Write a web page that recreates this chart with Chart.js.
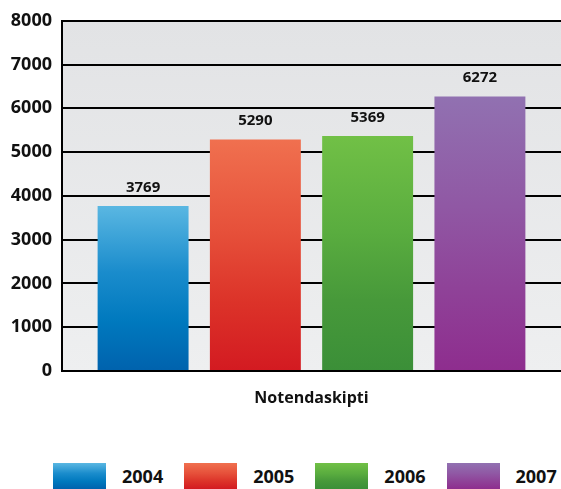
<!DOCTYPE html>
<html lang="is">
<head>
  <meta charset="UTF-8">
  <title>Notendaskipti</title>
  <script src="https://cdn.jsdelivr.net/npm/chart.js"></script>
  <style>
    body {
      margin: 0;
      background: #fff;
      font-family: "Open Sans", sans-serif;
    }
    .wrap {
      width: 561px;
      height: 489px;
    }
    #legend {
      display: flex;
      padding-left: 53px;
      margin-top: 8px;
      height: 26px;
    }
    #legend .item {
      display: flex;
      align-items: center;
      margin-right: 21px;
    }
    #legend .box {
      width: 53px;
      height: 26px;
      margin-right: 16px;
    }
    #legend .label {
      font-weight: 700;
      font-size: 18px;
      color: #111;
      line-height: 26px;
    }
  </style>
</head>
<body>
  <div class="wrap">
    <canvas id="chart" width="561" height="455"></canvas>
    <div id="legend"></div>
  </div>

  <script>
    // data
    const categories = ['Notendaskipti'];
    const years = ['2004', '2005', '2006', '2007'];
    const values = [3769, 5290, 5369, 6272];
    const yMax = 8000;
    const yStep = 1000;

    // gradient stops per year (top -> bottom)
    const barColors = [
      ['#5ab7e2', '#1a8ccc', '#0079be', '#0062ad'],
      ['#f0704f', '#e6503a', '#dc3329', '#d31a21'],
      ['#71c046', '#5aad3f', '#47993a', '#3b8f38'],
      ['#9171b1', '#9058a4', '#8f4298', '#8e2d8e']
    ];
    const stopAt = [0, 0.4, 0.7, 1];

    function barGradient(chart, idx, value) {
      const stops = barColors[idx];
      const area = chart.chartArea;
      const y = chart.scales.y;
      if (!area || !y) return stops[stops.length - 1];
      const g = chart.ctx.createLinearGradient(0, y.getPixelForValue(value), 0, y.getPixelForValue(0));
      stops.forEach((c, i) => g.addColorStop(stopAt[i], c));
      return g;
    }

    // grey plot background
    const plotBg = {
      id: 'plotBg',
      beforeDraw(chart) {
        const {ctx, chartArea: a} = chart;
        const g = ctx.createLinearGradient(0, a.top, 0, a.bottom);
        g.addColorStop(0, '#e2e3e5');
        g.addColorStop(1, '#eeeff0');
        ctx.save();
        ctx.fillStyle = g;
        ctx.fillRect(a.left, a.top, a.right - a.left, a.bottom - a.top);
        ctx.restore();
      }
    };

    // value labels above bars
    const valueLabels = {
      id: 'valueLabels',
      afterDatasetsDraw(chart) {
        const ctx = chart.ctx;
        ctx.save();
        ctx.font = '700 15px "Open Sans", sans-serif';
        ctx.fillStyle = '#111';
        ctx.textAlign = 'center';
        ctx.textBaseline = 'alphabetic';
        chart.data.datasets.forEach((ds, i) => {
          chart.getDatasetMeta(i).data.forEach((bar, j) => {
            ctx.fillText(String(ds.data[j]), bar.x, bar.y - 14);
          });
        });
        ctx.restore();
      }
    };

    const datasets = years.map((yr, i) => ({
      label: yr,
      data: [values[i]],
      backgroundColor: c => barGradient(c.chart, i, c.raw),
      borderWidth: 0,
      barPercentage: 0.81,
      categoryPercentage: 0.9
    }));

    new Chart(document.getElementById('chart').getContext('2d'), {
      type: 'bar',
      data: { labels: categories, datasets: datasets },
      options: {
        responsive: false,
        animation: false,
        layout: { padding: { top: 20, right: 0, left: 0, bottom: 0 } },
        plugins: {
          legend: { display: false },
          tooltip: { enabled: false }
        },
        scales: {
          x: {
            grid: { display: false, drawTicks: false },
            border: { display: true, color: '#000', width: 2 },
            ticks: { display: false },
            title: {
              display: true,
              text: categories[0],
              color: '#111',
              font: { family: '"Open Sans", sans-serif', size: 16, weight: '700' },
              padding: { top: 17, bottom: 47 }
            },
            afterFit: s => { s.height = 84; }
          },
          y: {
            min: 0,
            max: yMax,
            ticks: {
              stepSize: yStep,
              color: '#111',
              padding: 10,
              font: { family: '"Open Sans", sans-serif', size: 18, weight: '700' },
              callback: v => String(v)
            },
            grid: { color: '#000', lineWidth: 2, drawTicks: false },
            border: { display: true, color: '#000', width: 2 },
            afterFit: s => { s.width = 62; }
          }
        }
      },
      plugins: [plotBg, valueLabels]
    });

    // legend
    const legend = document.getElementById('legend');
    years.forEach((yr, i) => {
      const item = document.createElement('div');
      item.className = 'item';
      const stops = barColors[i].map((c, k) => `${c} ${stopAt[k] * 100}%`).join(', ');
      item.innerHTML = `<span class="box" style="background: linear-gradient(to bottom, ${stops})"></span><span class="label">${yr}</span>`;
      legend.appendChild(item);
    });
  </script>
</body>
</html>
